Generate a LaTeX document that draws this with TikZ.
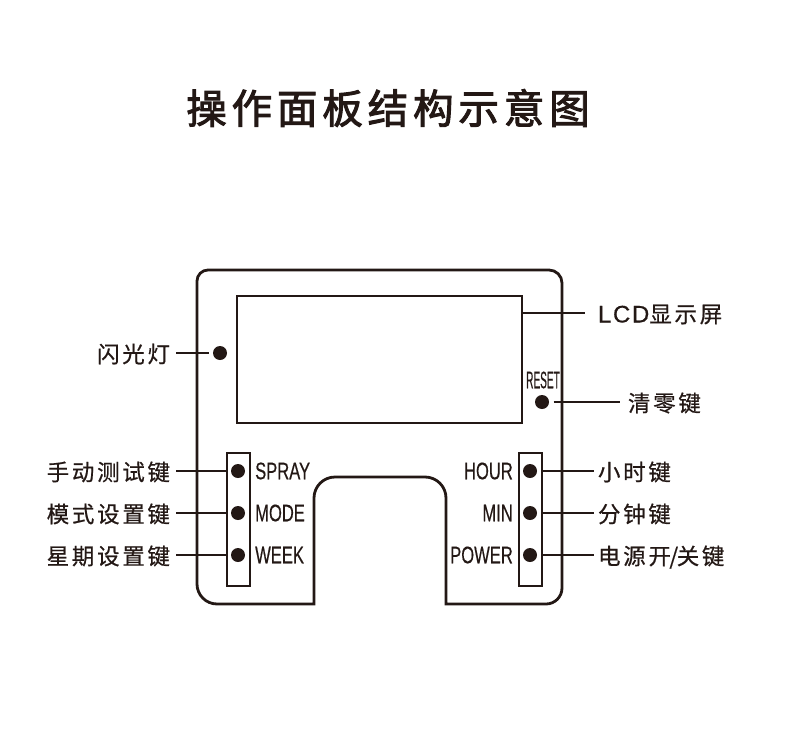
\documentclass[tikz,border=0pt]{standalone}
\usepackage{fontspec}
\setmainfont{Liberation Sans}
\newfontfamily\cjktitle[LetterSpace=12,FakeBold=2.4]{Noto Sans CJK SC}
\newfontfamily\cjklabel[LetterSpace=12,FakeBold=0.6]{Noto Sans CJK SC}
\newfontfamily\keyfont[FakeStretch=0.69,FakeBold=0.4]{Liberation Sans}
\newfontfamily\resetfont[FakeStretch=0.42,FakeBold=0.3]{Liberation Sans}
\newfontfamily\lcdfont[LetterSpace=7,FakeBold=0.4]{Liberation Sans}
\definecolor{panel}{HTML}{231815}
\tikzset{
  wall/.style={draw=panel, line width=2.8pt},
  lead/.style={draw=panel, line width=2pt},
  keydot/.style={circle, fill=panel, minimum size=14pt, inner sep=0pt, outer sep=4.5pt},
  cnlabel/.style={text=panel, inner sep=0pt, outer sep=4pt, text height=23pt, text depth=4pt, font=\fontsize{22.5}{22.5}\cjklabel},
  keytext/.style={text=panel, inner sep=0pt, font=\fontsize{24}{24}\keyfont}
}
\begin{document}
\begin{tikzpicture}[x=1pt, y=-1pt]
\useasboundingbox (0,0) rectangle (790,731);

% Title
\node[text=panel, inner sep=0pt, font=\fontsize{40.5}{40.5}\cjktitle] (title) at (388,108) {操作面板结构示意图};

% Panel outline
\draw[wall] (314,604) [rounded corners=20pt] -- (197,604) [rounded corners=11pt] -- (197,270) [rounded corners=13pt] -- (562,270) [rounded corners=16pt] -- (562,604) [sharp corners] -- (446,604) [rounded corners=21pt] -- (446,477) -- (314,477) [sharp corners] -- cycle;

% LCD and key strips
\node[wall, minimum width=285pt, minimum height=127pt, inner sep=0pt] (lcd) at (379.5,359.5) {};
\draw[wall] (227,453) rectangle (250,586);
\draw[wall] (519,453) rectangle (542,586);

% Dots
\node[keydot] (flash) at (220,353) {};
\node[keydot] (reset) at (542,402) {};
\node[keydot] (spray) at (238,471) {};
\node[keydot] (mode) at (238,513) {};
\node[keydot] (week) at (238,555) {};
\node[keydot] (hour) at (530,471) {};
\node[keydot] (min) at (530,513) {};
\node[keydot] (power) at (530,555) {};

% Key names
\node[keytext, anchor=west] (spraytext) at (255,471) {SPRAY};
\node[keytext, anchor=west] (modetext) at (255,513) {MODE};
\node[keytext, anchor=west] (weektext) at (255,555) {WEEK};
\node[keytext, anchor=east] (hourtext) at (513,471) {HOUR};
\node[keytext, anchor=east] (mintext) at (513,513) {MIN};
\node[keytext, anchor=east] (powertext) at (513,555) {POWER};
\node[text=panel, inner sep=0pt, font=\fontsize{24}{24}\resetfont] (resettext) at (543,380) {RESET};

% Chinese labels
\node[cnlabel, outer sep=6pt, anchor=east] (flashlabel) at (176,353) {闪光灯};
\node[cnlabel, outer sep=6pt, anchor=east] (spraylabel) at (176,471) {手动测试键};
\node[cnlabel, outer sep=6pt, anchor=east] (modelabel) at (176,513) {模式设置键};
\node[cnlabel, outer sep=6pt, anchor=east] (weeklabel) at (176,555) {星期设置键};
\node[cnlabel, anchor=west] (hourlabel) at (594,471) {小时键};
\node[cnlabel, anchor=west] (minlabel) at (594,513) {分钟键};
\node[cnlabel, anchor=west] (powerlabel) at (594,555) {电源开\kern-1.5pt/\kern-1.5pt关键};
\node[cnlabel, outer sep=8pt, anchor=west] (resetlabel) at (620,402) {清零键};
\node[cnlabel, outer sep=13pt, anchor=west] (lcdlabel) at (585,313) {{\fontsize{24}{24}\lcdfont LCD}显示屏};

% Leaders
\draw[lead] (flashlabel.east) -- (flash.west);
\draw[lead] (spraylabel.east) -- (spray.west);
\draw[lead] (modelabel.east) -- (mode.west);
\draw[lead] (weeklabel.east) -- (week.west);
\draw[lead] (hour.east) -- (hourlabel.west);
\draw[lead] (min.east) -- (minlabel.west);
\draw[lead] (power.east) -- (powerlabel.west);
\draw[lead] (reset.east) -- (resetlabel.west);
\draw[lead] (lcdlabel.west -| lcd.east) -- (lcdlabel.west);

\end{tikzpicture}
\end{document}
